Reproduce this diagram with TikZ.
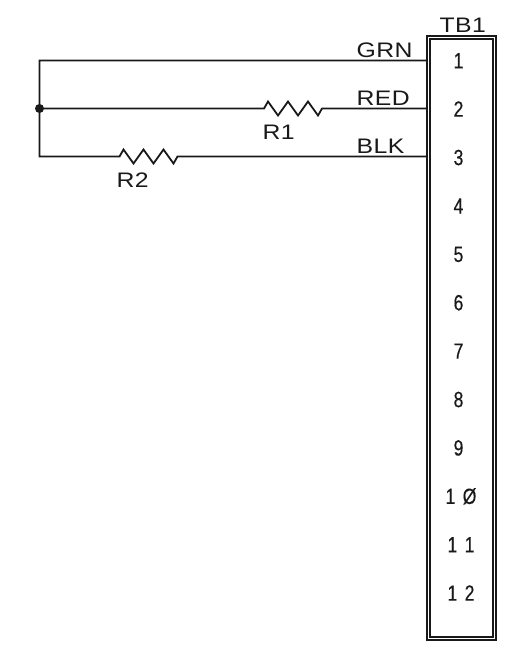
\documentclass[tikz,border=0pt]{standalone}
\usepackage{fontspec}
\setmainfont{Liberation Sans}
\newfontfamily\wide[FakeStretch=1.18,LetterSpace=2]{Liberation Sans}
\newfontfamily\narrow[FakeStretch=0.8,FakeBold=0.3]{Liberation Sans}
\newcommand{\gap}{\hspace{2.5pt}}
\tikzset{
  x=1pt,y=-1pt,
  wire/.style={line width=1.8pt,line join=miter,black!90},
  boxline/.style={draw=black!90,line width=1.8pt,fill=none,inner sep=0pt,outer sep=0pt},
  lab/.style={anchor=base west,inner sep=0pt,font=\wide\fontsize{21}{21}\selectfont,text=black!90},
  pin/.style={anchor=base,inner sep=0pt,font=\narrow\fontsize{22}{22}\selectfont,text=black!90},
  dot/.style={circle,fill=black!90,inner sep=0pt,minimum size=9pt},
}
\begin{document}
\begin{tikzpicture}
\useasboundingbox (0,0) rectangle (508,654);
% terminal block
\node[boxline,minimum width=69pt,minimum height=603.5pt] (tbo) at (461.5,338) {};
\node[boxline,minimum width=63pt,minimum height=597.5pt] (tbi) at (461.5,338) {};
\node[lab] (tb1) at (439.5,32) {TB1};
% pin coordinates
\coordinate (p1) at (427,60.5);
\coordinate (p2) at (427,108.5);
\coordinate (p3) at (427,156.5);
\coordinate (c1) at (39.5,60.5);
\coordinate (c3) at (39.5,156.5);
\node[dot] (j) at (39.5,108.5) {};
\coordinate (r1a) at (264,108.5);
\coordinate (r1b) at (322,108.5);
\coordinate (r2a) at (119.5,156.5);
\coordinate (r2b) at (177.5,156.5);
% wires
\draw[wire] (p1) -- (c1) -- (c3) -- (r2a)
  -- ++(4,-7) -- ++(10,14) -- ++(10,-14) -- ++(10,14) -- ++(10,-14) -- ++(10,14) -- (r2b) -- (p3);
\draw[wire] (j.center) -- (r1a)
  -- ++(4,-7) -- ++(10,14) -- ++(10,-14) -- ++(10,14) -- ++(10,-14) -- ++(10,14) -- (r1b) -- (p2);
% labels
\node[lab] (grn) at (356.5,57.4) {GRN};
\node[lab] (red) at (356.5,105.2) {RED};
\node[lab] (blk) at (356.5,153.2) {BLK};
\node[lab] (r1) at (262.5,139) {R1};
\node[lab] (r2) at (116.5,187) {R2};
% pin numbers
\node[pin] (n1) at (458.5,68.3) {1};
\node[pin] (n2) at (458.5,116.7) {2};
\node[pin] (n3) at (458.5,165.1) {3};
\node[pin] (n4) at (458.5,213.5) {4};
\node[pin] (n5) at (458.5,261.9) {5};
\node[pin] (n6) at (458.5,310.3) {6};
\node[pin] (n7) at (458.5,358.7) {7};
\node[pin] (n8) at (458.5,407.1) {8};
\node[pin] (n9) at (458.5,455.5) {9};
\node[pin] (n10) at (461,503.9) {1\gap{} Ø};
\node[pin] (n11) at (461,552.3) {1\gap{} 1};
\node[pin] (n12) at (461,600.7) {1\gap{} 2};
\end{tikzpicture}
\end{document}
